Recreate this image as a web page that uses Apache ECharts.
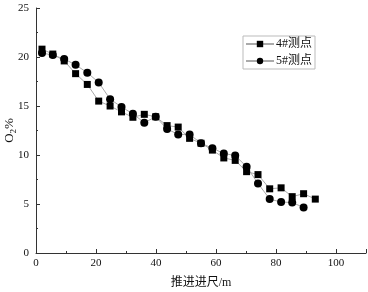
<!DOCTYPE html>
<html><head><meta charset="utf-8">
<script src="https://cdn.jsdelivr.net/npm/echarts@6/dist/echarts.min.js"></script>
<style>html,body{margin:0;padding:0;background:#fff}#c{width:368px;height:292px}</style>
</head><body><div id="c"></div>
<script>
const xs4 = [2, 5.6, 9.4, 13.2, 17.1, 20.9, 24.7, 28.5, 32.3, 36.1, 39.9, 43.7, 47.4, 51.2, 55, 58.8, 62.6, 66.4, 70.2, 74, 77.9, 81.7, 85.4, 89.2, 93.1];
const o2_4 = [20.8, 20.3, 19.6, 18.3, 17.2, 15.5, 15.0, 14.4, 13.85, 14.15, 13.9, 13.0, 12.85, 11.7, 11.2, 10.5, 9.7, 9.45, 8.3, 8.0, 6.55, 6.65, 5.75, 6.05, 5.5];
const xs5 = [2, 5.6, 9.4, 13.2, 17.1, 20.9, 24.7, 28.5, 32.3, 36.1, 39.9, 43.7, 47.4, 51.2, 55, 58.8, 62.6, 66.4, 70.2, 74, 77.9, 81.7, 85.4, 89.2];
const o2_5 = [20.4, 20.2, 19.8, 19.2, 18.4, 17.4, 15.7, 14.9, 14.2, 13.3, 13.9, 12.65, 12.1, 12.1, 11.2, 10.7, 10.15, 9.95, 8.8, 7.1, 5.5, 5.2, 5.15, 4.65];
const names = ['4#测点', '5#测点'];
const serif = '"Liberation Serif", "Times New Roman", "Noto Sans CJK SC", serif';
const axisCommon = {
  axisLine: {show: true, lineStyle: {color: '#333', width: 1}},
  axisTick: {show: true, inside: true, length: 4, lineStyle: {color: '#333'}},
  minorTick: {show: true, splitNumber: 2, length: 2, lineStyle: {color: '#333'}},
  splitLine: {show: false},
  axisLabel: {color: '#111', fontFamily: serif, fontSize: 11}
};
const chart = echarts.init(document.getElementById('c'));
chart.setOption({
  animation: false,
  backgroundColor: '#fff',
  grid: {left: 36, right: 2, top: 8, bottom: 39, containLabel: false, outerBoundsMode: 'none'},
  legend: {
    orient: 'vertical', left: 243, top: 36,
    borderColor: '#bbb', borderWidth: 1, borderRadius: 0,
    padding: [2, 3, 2, 2], itemGap: 5, itemWidth: 28, itemHeight: 8,
    textStyle: {fontFamily: serif, fontSize: 12, color: '#111', padding: [0,0,0,-3]},
    data: names
  },
  xAxis: Object.assign({}, axisCommon, {
    type: 'value', min: 0, max: 110, interval: 20,
    name: '推进进尺/m', nameLocation: 'middle', nameGap: 24, nameMoveOverlap: false,
    nameTextStyle: {fontFamily: serif, fontSize: 12, color: '#111'},
    axisLabel: Object.assign({}, axisCommon.axisLabel, {margin: 5, showMaxLabel: false,
      formatter: v => v > 100 ? '' : v})
  }),
  yAxis: Object.assign({}, axisCommon, {
    type: 'value', min: 0, max: 25, interval: 5,
    name: '{a|O}{b|2}{a|%}', nameLocation: 'middle', nameGap: 18, nameMoveOverlap: false,
    nameTextStyle: {rich: {
      a: {fontFamily: serif, fontSize: 13, color: '#111', lineHeight: 16},
      b: {fontFamily: serif, fontSize: 9, color: '#111', lineHeight: 16, verticalAlign: 'bottom', padding: [6,0,0,0]}
    }},
    axisLabel: Object.assign({}, axisCommon.axisLabel, {margin: 7})
  }),
  series: [
    {name: names[0], type: 'line', data: xs4.map((x, i) => [x, o2_4[i]]),
     symbol: 'rect', symbolSize: 7,
     itemStyle: {color: '#000'}, lineStyle: {color: '#aaa', width: 1}},
    {name: names[1], type: 'line', data: xs5.map((x, i) => [x, o2_5[i]]),
     symbol: 'circle', symbolSize: 8,
     itemStyle: {color: '#000'}, lineStyle: {color: '#aaa', width: 1}}
  ]
});
</script></body></html>
